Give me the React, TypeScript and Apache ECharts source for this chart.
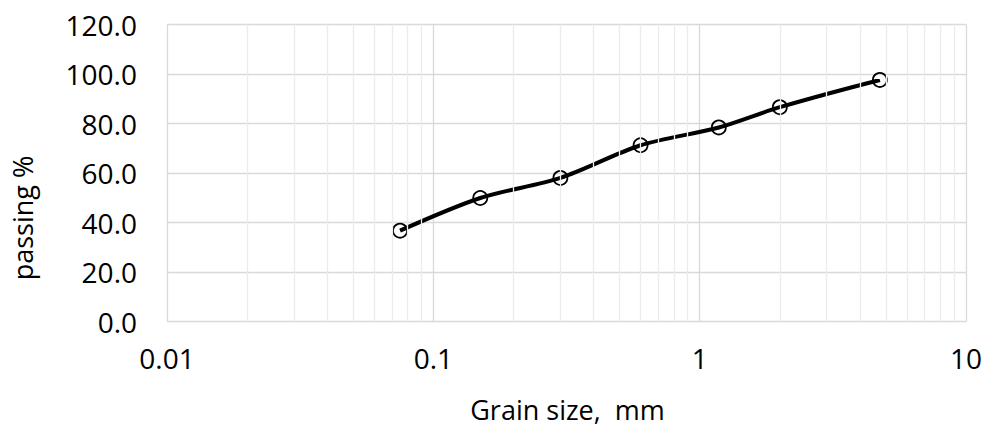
import React, { useEffect, useRef } from "react";
import * as echarts from "echarts";

const grainSizes = [0.075, 0.15, 0.3, 0.6, 1.18, 2.0, 4.75];
const passing = [36.7, 49.9, 58.0, 71.2, 78.4, 86.6, 97.6];
const minorXGrid = [
  0.02, 0.03, 0.04, 0.05, 0.06, 0.07, 0.08, 0.09,
  0.2, 0.3, 0.4, 0.5, 0.6, 0.7, 0.8, 0.9,
  2, 3, 4, 5, 6, 7, 8, 9,
];
const xTitle = "Grain size,  mm";
const yTitle = "passing %";

const FONT = "'Open Sans', sans-serif";

export default function App() {
  const ref = useRef<HTMLDivElement>(null);
  useEffect(() => {
    if (!ref.current) return;
    const chart = echarts.init(ref.current, undefined, { renderer: "svg" });
    const points = grainSizes.map((g, i) => [g, passing[i]]);
    chart.setOption({
      animation: false,
      grid: { left: 167, right: 17, top: 24.5, bottom: 104.5, containLabel: false },
      xAxis: {
        type: "log",
        logBase: 10,
        min: 0.01,
        max: 10,
        axisLine: { show: false },
        axisTick: { show: false },
        axisLabel: {
          color: "#000",
          fontFamily: FONT,
          fontSize: 28,
          margin: 22,
          formatter: (v: number) => String(v),
        },
        splitLine: { show: true, lineStyle: { color: "#d9d9d9", width: 1.3 } },
      },
      yAxis: {
        type: "value",
        min: 0,
        max: 120,
        interval: 20,
        axisLine: { show: false },
        axisTick: { show: false },
        axisLabel: {
          color: "#000",
          fontFamily: FONT,
          fontSize: 28,
          margin: 30,
          formatter: (v: number) => v.toFixed(1),
        },
        splitLine: { show: true, lineStyle: { color: "#d9d9d9", width: 1.3 } },
      },
      graphic: [
        {
          type: "text",
          x: 567.5,
          y: 409,
          style: {
            text: xTitle,
            font: `27px ${FONT}`,
            fill: "#000",
            align: "center",
            verticalAlign: "middle",
          },
        },
        {
          type: "text",
          x: 22,
          y: 218,
          rotation: Math.PI / 2,
          style: {
            text: yTitle,
            font: `27px ${FONT}`,
            fill: "#000",
            align: "center",
            verticalAlign: "middle",
          },
        },
      ],
      series: [
        {
          type: "line",
          data: [],
          z: 1,
          silent: true,
          markLine: {
            silent: true,
            symbol: "none",
            label: { show: false },
            lineStyle: { color: "#ececec", width: 1.3, type: "solid" },
            data: minorXGrid.map((v) => ({ xAxis: v })),
          },
        },
        {
          type: "line",
          data: points,
          z: 3,
          smooth: 0.3,
          symbol: "circle",
          symbolSize: 14,
          lineStyle: { color: "#000", width: 4 },
          itemStyle: { color: "rgba(0,0,0,0)", borderColor: "#000", borderWidth: 1.8 },
        },
      ],
    });
    return () => chart.dispose();
  }, []);
  return (
    <div
      ref={ref}
      style={{ position: "fixed", left: 0, top: 0, width: 985, height: 426, background: "#fff" }}
    />
  );
}
